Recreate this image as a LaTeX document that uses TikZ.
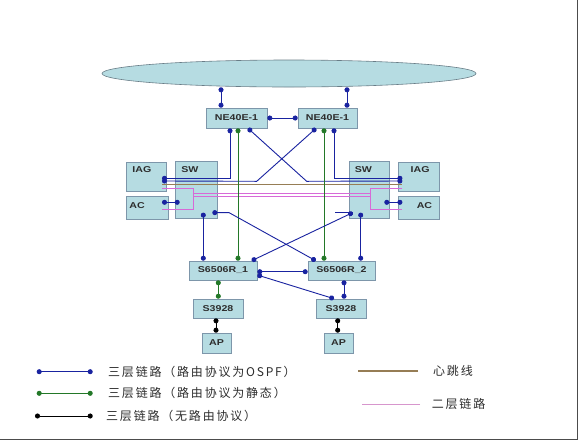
\documentclass[tikz,border=0pt]{standalone}
\usepackage{fontspec}
\usepackage{graphicx}
\setsansfont{Liberation Sans}
\newfontfamily\cjk[LetterSpace=15]{Noto Sans CJK SC}
\usetikzlibrary{arrows.meta,shapes.geometric}

\definecolor{boxfill}{RGB}{182,220,226}
\definecolor{boxline}{RGB}{125,150,170}
\definecolor{cloudline}{RGB}{105,125,135}
\definecolor{linkblue}{RGB}{25,35,160}
\definecolor{linkgreen}{RGB}{35,120,40}
\definecolor{linkbrown}{RGB}{150,125,85}
\definecolor{linkpink}{RGB}{215,105,215}
\definecolor{legpink}{RGB}{215,150,205}
\definecolor{txtgray}{RGB}{45,45,45}

\tikzset{>={Circle[length=5pt]}}
\tikzset{
  dev/.style={draw=boxline, fill=boxfill, line width=0.6pt, inner sep=0pt,
    text=txtgray, font=\sffamily\bfseries\fontsize{8.5}{9}\selectfont},
  devtxt/.style={inner sep=0pt, text=txtgray, font=\sffamily\bfseries\fontsize{8.5}{9}\selectfont},
  legtxt/.style={inner sep=0pt, anchor=west, text=txtgray, font=\cjk\fontsize{12}{14}\selectfont},
  ospfline/.style={<->, draw=linkblue, line width=0.9pt},
  staticline/.style={<->, draw=linkgreen, line width=0.9pt},
  plainline/.style={<->, draw=black, line width=0.9pt},
  beatline/.style={draw=linkbrown, line width=1.4pt},
  ltwoline/.style={draw=linkpink, line width=0.8pt},
}
\newcommand\wide[1]{\scalebox{1.25}[1]{#1}}

\begin{document}
\begin{tikzpicture}[x=1pt, y=-1pt]

  \useasboundingbox (0,0) rectangle (578,440);
  \fill[white] (0,0) rectangle (578,440);

  % cloud and core routers
  \node[dev, ellipse, draw=cloudline, minimum width=374pt, minimum height=27pt] (cloud) at (289,73.5) {};
  \node[dev, minimum width=61pt, minimum height=20pt] (ne1) at (236.5,118) {\wide{NE40E-1}};
  \node[dev, minimum width=59pt, minimum height=20pt] (ne2) at (327.5,118) {\wide{NE40E-1}};

  % left group
  \node[dev, minimum width=40pt, minimum height=29pt,
    label={[devtxt, anchor=north west, xshift=6.5pt, yshift=-5pt]north west:\wide{IAG}}] (iagL) at (146,176.5) {};
  \node[dev, minimum width=42pt, minimum height=23pt,
    label={[devtxt, anchor=west, xshift=3.5pt, yshift=2pt]west:\wide{AC}}] (acL) at (147,207.5) {};
  \node[dev, minimum width=42pt, minimum height=57pt,
    label={[devtxt, anchor=north west, xshift=6.5pt, yshift=-5.5pt]north west:\wide{SW}}] (swL) at (196,189.5) {};

  % right group
  \node[dev, minimum width=40pt, minimum height=57pt,
    label={[devtxt, anchor=north west, xshift=6pt, yshift=-5.5pt]north west:\wide{SW}}] (swR) at (369,189.5) {};
  \node[dev, minimum width=41pt, minimum height=29pt,
    label={[devtxt, anchor=north east, xshift=-9.5pt, yshift=-5pt]north east:\wide{IAG}}] (iagR) at (418.5,176.5) {};
  \node[dev, minimum width=41pt, minimum height=23pt,
    label={[devtxt, anchor=east, xshift=-7pt, yshift=2pt]east:\wide{AC}}] (acR) at (418.5,207.5) {};

  % aggregation and access
  \node[dev, minimum width=68pt, minimum height=19pt] (r1) at (223,270.5) {\wide{S6506R\_1}};
  \node[dev, minimum width=67pt, minimum height=19pt] (r2) at (341.5,270.5) {\wide{S6506R\_2}};
  \node[dev, minimum width=50pt, minimum height=19pt] (s1) at (218,308.5) {\wide{S3928}};
  \node[dev, minimum width=50pt, minimum height=19pt] (s2) at (341,308.5) {\wide{S3928}};
  \node[dev, minimum width=29pt, minimum height=20pt] (ap1) at (216.5,343) {\wide{AP}};
  \node[dev, minimum width=29pt, minimum height=20pt] (ap2) at (338.5,343) {\wide{AP}};

  % ports
  \coordinate (ne1a) at ([xshift=-15.5pt]ne1.north);
  \coordinate (ne2a) at ([xshift=19.5pt]ne2.north);
  \coordinate (ne1g) at ([xshift=1.5pt]ne1.south);
  \coordinate (ne2g) at ([xshift=-3.5pt]ne2.south);
  \coordinate (swLa) at ([xshift=7.3pt,yshift=5.7pt]swL.south);
  \coordinate (swLb) at ([xshift=16.3pt,yshift=5.7pt]swL.south);
  \coordinate (swRa) at ([xshift=-16.3pt,yshift=5.7pt]swR.south);
  \coordinate (swRb) at ([xshift=-8.3pt,yshift=5.7pt]swR.south);
  \coordinate (r1b) at ([xshift=-4.7pt]r1.south);
  \coordinate (r2b) at ([xshift=2.5pt]r2.south);
  \coordinate (s1b) at ([xshift=-2pt]s1.south);
  \coordinate (s2b) at ([xshift=-3.3pt]s2.south);

  % heartbeat and layer 2
  \draw[beatline] ([xshift=-4.3pt,yshift=-8pt]iagL.east) -- ([xshift=4.7pt,yshift=-8pt]iagR.west);
  \draw[ltwoline] ([xshift=-4.3pt,yshift=-12pt]iagL.east) -- ++(31.3,0) |- ([xshift=-6pt,yshift=-1.5pt]acL.east);
  \draw[ltwoline] ([xshift=4.7pt,yshift=-12pt]iagR.west) -- ++(-31.7,0) |- ([xshift=4.7pt,yshift=-1.5pt]acR.west);
  \draw[ltwoline] ([xshift=-3pt,yshift=-4pt]swL.center) -- ([xshift=2pt,yshift=-4pt]swR.center);
  \draw[ltwoline] ([xshift=-3pt,yshift=-6.5pt]swL.center) -- ([xshift=2pt,yshift=-6.5pt]swR.center);

  % uplinks
  \draw[ospfline] (ne1a |- cloud.south) -- (ne1a);
  \draw[ospfline] (ne2a |- cloud.south) -- (ne2a);
  \draw[ospfline] (ne1.east) -- (ne2.west);

  % NE40E to IAG
  \draw[ospfline] ([xshift=-6.5pt]ne1.south) |- ([xshift=-4.3pt,yshift=-1.8pt]iagL.east);
  \draw[ospfline] ([xshift=11.5pt]ne1.south) -- ++(58.7,53) -- ([xshift=4.7pt,yshift=-4.5pt]iagR.west);
  \draw[ospfline] ([xshift=-11.5pt]ne2.south) -- ++(-59.3,53) -- ([xshift=-4.3pt,yshift=-4.5pt]iagL.east);
  \draw[ospfline] ([xshift=6.5pt]ne2.south) |- ([xshift=4.7pt,yshift=-1.8pt]iagR.west);

  % static routes down
  \draw[staticline] (ne1g) -- (ne1g |- r1.north);
  \draw[staticline] (ne2g) -- (ne2g |- r2.north);

  % AC to SW
  \draw[ospfline] ([xshift=-6.3pt,yshift=5.2pt]acL.east) -- ([xshift=5pt,yshift=-12.8pt]swL.west);
  \draw[ospfline] ([xshift=-5pt,yshift=-12.8pt]swR.east) -- ([xshift=4.7pt,yshift=5.2pt]acR.west);

  % SW to S6506R
  \draw[ospfline] (swLa) -- (swLa |- r1.north);
  \draw[ospfline] (swLb) -- ++(16.7,0) -- ([xshift=-25.8pt]r2.north);
  \draw[ospfline] (swRb) -- (swRb |- r2.north);
  \draw[ospfline] ([xshift=28.7pt]r1.north) -- (swRa);
  \draw[linkblue, line width=0.9pt] (swRa) -- ++(-17.7,0);

  % S6506R to S3928 and AP
  \draw[ospfline] ([yshift=-1.2pt]r1.east) -- ([yshift=-1.2pt]r2.west);
  \draw[ospfline] ([yshift=-4.5pt]r1.east) -- ([xshift=-7pt]s2.north);
  \draw[ospfline] (r2b) -- (r2b |- s2.north);
  \draw[staticline] (r1b) -- (r1b |- s1.north);
  \draw[plainline] (s1b) -- (s1b |- ap1.north);
  \draw[plainline] (s2b) -- (s2b |- ap2.north);

  % legend
  \node[legtxt] (lg1) at (108,371.7) {三层链路（路由协议为OSPF）};
  \node[legtxt] (lg2) at (108,393.3) {三层链路（路由协议为静态）};
  \node[legtxt] (lg3) at (106,416) {三层链路（无路由协议）};
  \node[legtxt] (lg4) at (433,371) {心跳线};
  \node[legtxt] (lg5) at (431.7,404) {二层链路};
  \draw[ospfline] ([xshift=-15.3pt]lg1.west) -- ++(-56,0);
  \draw[staticline] ([xshift=-15.3pt]lg2.west) -- ++(-56,0);
  \draw[plainline] ([xshift=-13.3pt]lg3.west) -- ++(-57.7,0);
  \draw[beatline] ([xshift=-15pt]lg4.west) -- ++(-60,0);
  \draw[draw=legpink, line width=0.8pt] ([xshift=-11.7pt]lg5.west) -- ++(-58.3,0);

  % frame
  \draw[gray!60!black, line width=1pt] (577.5,0) -- (577.5,439.5) -- (0,439.5);

\end{tikzpicture}
\end{document}
